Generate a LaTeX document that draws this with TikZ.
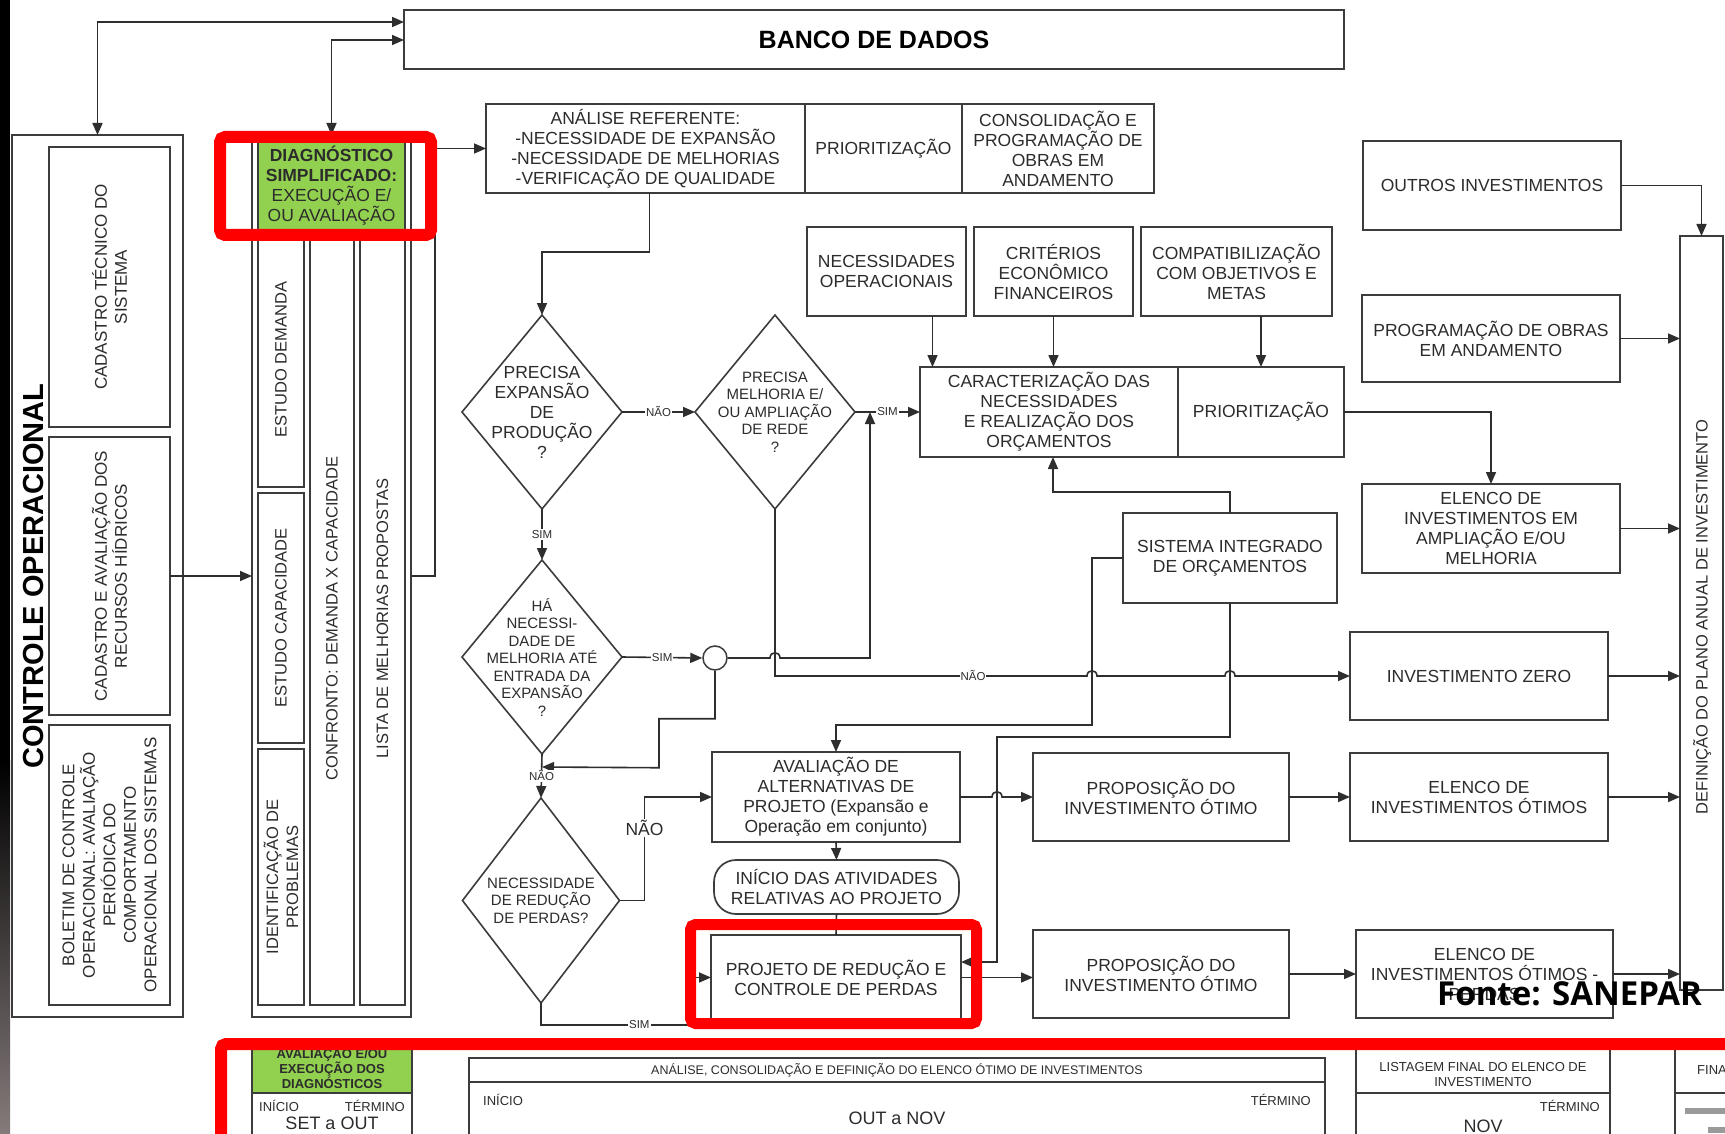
\documentclass[tikz,border=0pt]{standalone}
\usepackage{fontspec}
\setmainfont{Liberation Sans}
\newfontfamily\fontefamily{Open Sans}
\usetikzlibrary{arrows.meta,shapes.geometric,calc}

\definecolor{linecol}{HTML}{2E2E2E}
\definecolor{boxline}{HTML}{3C3C3C}
\definecolor{txtcol}{HTML}{2C2C2C}
\definecolor{greenfill}{HTML}{92D050}
\definecolor{redmark}{HTML}{FF0000}
\definecolor{barend}{HTML}{857B7B}
\definecolor{hatchgray}{HTML}{9A9A9A}

\newcommand{\bxfont}{\fontsize{17.5}{20}\selectfont}
\newcommand{\smfont}{\fontsize{15}{17.5}\selectfont}
% box from its corners: [options]{name}{x1}{y1}{x2}{y2}{text}
\newcommand{\cbox}[7][]{\node[box,#1,minimum width={(#5-#3)*1pt},minimum height={(#6-#4)*1pt}] (#2) at ({(#3+#5)/2},{(#4+#6)/2}) {#7};}

\begin{document}
\begin{tikzpicture}[x=1pt,y=-1pt,
  box/.style={draw=boxline, line width=1.7pt, fill=white, text=txtcol, font=\bxfont, align=center, inner sep=1pt, outer sep=0pt},
  txt/.style={text=txtcol, font=\bxfont, align=center, inner sep=0pt},
  rtxt/.style={txt, rotate=90, font=\fontsize{16.5}{20}\selectfont},
  dia/.style={diamond, draw=boxline, line width=1.6pt, fill=white, inner sep=0pt, outer sep=0pt},
  conn/.style={draw=linecol, line width=1.6pt},
  arr/.style={conn, -{Triangle[length=12pt,width=10pt]}},
  biarr/.style={conn, {Triangle[length=12pt,width=10pt]}-{Triangle[length=12pt,width=10pt]}},
  lbl/.style={fill=white, text=txtcol, font=\fontsize{11.5}{12}\selectfont, inner sep=1pt},
  lblbig/.style={fill=white, text=txtcol, font=\fontsize{17.5}{20}\selectfont, inner sep=1pt},
  marker/.style={draw=redmark, line width=12pt, rounded corners=5pt},
  strip/.style={txt, font=\fontsize{13}{15}\selectfont},
  stripbig/.style={txt, font=\fontsize{18}{20}\selectfont}
]
\useasboundingbox (0,0) rectangle (1725,1134);
\clip (0,0) rectangle (1725,1134);
\fill[white] (0,0) rectangle (1725,1134);

% dark bar on the left edge
\fill[black] (0,0) rectangle (10,760);
\shade[top color=black, bottom color=barend] (0,760) rectangle (10,1134);

% database
\cbox[font=\bfseries\fontsize{25}{28}\selectfont, text=black]{banco}{404}{10}{1344}{69}{BANCO DE DADOS}

% operational control column
\cbox{ctrl}{12}{135}{183}{1017}{}
\node[txt, rotate=90, anchor=base, font=\bfseries\fontsize{29}{32}\selectfont, text=black] (ctrlt) at (43,576) {CONTROLE OPERACIONAL};
\cbox{cad1}{49}{147}{170}{427}{}
\node[rtxt, font=\fontsize{17}{20}\selectfont] (cad1t) at (cad1) {CADASTRO TÉCNICO DO\\SISTEMA};
\cbox{cad2}{49}{437}{170}{715}{}
\node[rtxt, font=\fontsize{17}{20}\selectfont] (cad2t) at (cad2) {CADASTRO E AVALIAÇÃO DOS\\RECURSOS HÍDRICOS};
\cbox{bol}{49}{725}{170}{1005}{}
\node[rtxt, font=\fontsize{17}{20.5}\selectfont] (bolt) at (bol) {BOLETIM DE CONTROLE\\OPERACIONAL: AVALIAÇÃO\\PERIÓDICA DO\\COMPORTAMENTO\\OPERACIONAL DOS SISTEMAS};

% simplified diagnosis column
\cbox{diag}{252}{135}{411}{1017}{}
\cbox[fill=greenfill]{green}{258}{141}{405}{230}{}
\node[txt] (greent) at (green) {\textbf{DIAGNÓSTICO}\\\textbf{SIMPLIFICADO:}\\EXECUÇÃO E/\\OU AVALIAÇÃO};
\cbox{estdem}{258}{232}{304}{487}{}
\node[rtxt] (estdemt) at (estdem) {ESTUDO DEMANDA};
\cbox{estcap}{258}{493}{304}{743}{}
\node[rtxt] (estcapt) at (estcap) {ESTUDO CAPACIDADE};
\cbox{ident}{258}{749}{304}{1005}{}
\node[rtxt] (identt) at (ident) {IDENTIFICAÇÃO DE\\PROBLEMAS};
\cbox{confr}{310}{232}{354}{1005}{}
\node[rtxt] (confrt) at (confr) {CONFRONTO: DEMANDA X CAPACIDADE};
\cbox{lista}{360}{232}{405}{1005}{}
\node[rtxt] (listat) at (lista) {LISTA DE MELHORIAS PROPOSTAS};

% analysis row
\cbox{analise}{486}{104}{805}{193}{ANÁLISE REFERENTE:\\-NECESSIDADE DE EXPANSÃO\\-NECESSIDADE DE MELHORIAS\\-VERIFICAÇÃO DE QUALIDADE}
\cbox{prior1}{805}{104}{962}{193}{PRIORITIZAÇÃO}
\cbox{consol}{962}{104}{1154}{193}{CONSOLIDAÇÃO E\\PROGRAMAÇÃO DE\\OBRAS EM\\ANDAMENTO}

% inputs to the budget characterisation
\cbox{necop}{807}{227}{966}{316}{NECESSIDADES\\OPERACIONAIS}
\cbox{crit}{974}{227}{1133}{316}{CRITÉRIOS\\ECONÔMICO\\FINANCEIROS}
\cbox{compat}{1141}{227}{1332}{316}{COMPATIBILIZAÇÃO\\COM OBJETIVOS E\\METAS}
\cbox{caract}{920}{367}{1178}{457}{CARACTERIZAÇÃO DAS\\NECESSIDADES\\E REALIZAÇÃO DOS\\ORÇAMENTOS}
\cbox{prior2}{1178}{367}{1344}{457}{PRIORITIZAÇÃO}
\cbox{sistema}{1123}{513}{1337}{603}{SISTEMA INTEGRADO\\DE ORÇAMENTOS}

% right-hand investment lists
\cbox{outros}{1363}{141}{1621}{230}{OUTROS INVESTIMENTOS}
\cbox{progobras}{1362}{295}{1620}{382}{PROGRAMAÇÃO DE OBRAS\\EM ANDAMENTO}
\cbox{elencoamp}{1362}{484}{1620}{573}{ELENCO DE\\INVESTIMENTOS EM\\AMPLIAÇÃO E/OU\\MELHORIA}
\cbox{definicao}{1680}{236}{1723}{990}{}
\node[rtxt] (definicaot) at (1702,617) {DEFINIÇÃO DO PLANO ANUAL DE INVESTIMENTO};
\cbox{invzero}{1350}{632}{1608}{720}{INVESTIMENTO ZERO}

% project rows
\cbox{aval}{712}{752}{960}{842}{AVALIAÇÃO DE\\ALTERNATIVAS DE\\PROJETO (Expansão e\\Operação em conjunto)}
\cbox{prop1}{1033}{753}{1289}{841}{PROPOSIÇÃO DO\\INVESTIMENTO ÓTIMO}
\cbox{elencoot}{1350}{753}{1608}{841}{ELENCO DE\\INVESTIMENTOS ÓTIMOS}
\cbox[rounded corners=22pt]{inicio}{714}{860}{959}{914}{INÍCIO DAS ATIVIDADES\\RELATIVAS AO PROJETO}
\cbox{projeto}{711}{935}{961}{1020}{PROJETO DE REDUÇÃO E\\CONTROLE DE PERDAS}
\cbox{prop2}{1033}{930}{1289}{1018}{PROPOSIÇÃO DO\\INVESTIMENTO ÓTIMO}
\cbox{elencoperdas}{1356}{930}{1613}{1018}{ELENCO DE\\INVESTIMENTOS ÓTIMOS -\\PERDAS}

% decisions
\node[dia, minimum width=160pt, minimum height=194pt] (d1) at (542,412) {};
\node[txt] (d1t) at (d1) {PRECISA\\EXPANSÃO\\DE\\PRODUÇÃO\\?};
\node[dia, minimum width=160pt, minimum height=194pt] (d2) at (775,412) {};
\node[txt, font=\smfont] (d2t) at (d2) {PRECISA\\MELHORIA E/\\OU AMPLIAÇÃO\\DE REDE\\?};
\node[dia, minimum width=160pt, minimum height=194pt] (d3) at (542,657) {};
\node[txt, font=\smfont] (d3t) at (d3) {HÁ\\NECESSI-\\DADE DE\\MELHORIA ATÉ\\ENTRADA DA\\EXPANSÃO\\?};
\node[dia, minimum width=157pt, minimum height=205pt] (d4) at (541,900.5) {};
\node[txt, font=\smfont] (d4t) at (d4) {NECESSIDADE\\DE REDUÇÃO\\DE PERDAS?};
\node[circle, draw=boxline, line width=1.5pt, fill=white, minimum size=24pt, inner sep=0pt] (circ) at (715,658) {};

% helper points for the routed connectors
\coordinate (jn) at (870,412);
\coordinate (v1) at (1092,725);
\coordinate (v2) at (997,737);
\coordinate (v3) at (1053,492);
\coordinate (c1) at (690,1025);
\coordinate (c767) at (0,767);
\coordinate (n1) at ($(necop.south)+(46,0)$);
\coordinate (nl) at (d2.south |- invzero.west);
\coordinate (h1) at (d2.south |- circ.east);
\coordinate (h2) at (v1 |- invzero.west);
\coordinate (h3) at (sistema.south |- invzero.west);
\coordinate (h4) at (v2 |- aval.east);

% connectors
\draw[biarr] ([yshift=-12pt]banco.north west) -| (ctrl.north);
\draw[biarr] ([yshift=-30pt]banco.north west) -| (diag.north);
\draw[arr] (cad2.east) -- (cad2.east -| diag.west);
\draw[arr] (diag.east) -- ++(24,0) |- (analise.west);
\draw[arr] ([xshift=4pt]analise.south) -- ++(0,59) -| (d1.north);
\draw[arr] (d1.east) -- node[lbl]{NÃO} (d2.west);
\draw[arr] (d2.east) -- node[lbl]{SIM} (caract.west);
\draw[arr] (d1.south) -- node[lbl]{SIM} (d3.north);
\draw[arr] (d3.east) -- node[lbl]{SIM} (circ.west);
\draw[arr] (circ.east) -- ($(h1)+(-5,0)$) .. controls ($(h1)+(-5,-7)$) and ($(h1)+(5,-7)$) .. ($(h1)+(5,0)$) -- (jn |- circ.east) -- (jn);
\draw[arr] (d2.south) -- (nl) -- ($(h2)+(-5,0)$) .. controls ($(h2)+(-5,-7)$) and ($(h2)+(5,-7)$) .. ($(h2)+(5,0)$) -- ($(h3)+(-5,0)$) .. controls ($(h3)+(-5,-7)$) and ($(h3)+(5,-7)$) .. ($(h3)+(5,0)$) -- (invzero.west);
\node[lbl] (naozero) at (973,676) {NÃO};
\draw[arr] (circ.south) -- ++(0,48) -| ++(-56,49) -- (d3.south |- c767);
\draw[arr] (d3.south) -- node[lbl]{NÃO} (d4.north);
\draw[arr] (d4.east) -- ++(25,0) |- node[lblbig, pos=0.35]{NÃO} (aval.west);
\draw[arr] (d4.south) |- node[lbl, pos=0.83]{SIM} (c1) |- (projeto.west);
\draw[arr] (aval.south) -- (inicio.north);
\draw[conn] (inicio.south) -- (projeto.north);
\draw[arr] (sistema.west) -| (v1) -| (aval.north);
\draw[arr] (sistema.south) |- (v2) |- ($(projeto.north east)+(0,27)$);
\draw[arr] (sistema.north) |- (v3) -- (v3 |- caract.south);
\draw[arr] (n1) -- (n1 |- caract.north);
\draw[arr] (crit.south) -- (crit.south |- caract.north);
\draw[arr] (compat.south -| prior2.north) -- (prior2.north);
\draw[arr] (prior2.east) -| (elencoamp.north);
\draw[arr] (outros.east) -| (definicao.north);
\draw[arr] (progobras.east) -- (progobras.east -| definicao.west);
\draw[arr] (elencoamp.east) -- (elencoamp.east -| definicao.west);
\draw[arr] (invzero.east) -- (invzero.east -| definicao.west);
\draw[arr] (aval.east) -- ($(h4)+(-5,0)$) .. controls ($(h4)+(-5,-7)$) and ($(h4)+(5,-7)$) .. ($(h4)+(5,0)$) -- (aval.east -| prop1.west);
\draw[arr] (prop1.east) -- (elencoot.west);
\draw[arr] (elencoot.east) -- (elencoot.east -| definicao.west);
\draw[arr] (projeto.east) -- (projeto.east -| prop2.west);
\draw[arr] (prop2.east) -- (prop2.east -| elencoperdas.west);
\draw[arr] (elencoperdas.east) -- (elencoperdas.east -| definicao.west);

% schedule strip at the bottom
\cbox[fill=greenfill]{green2}{252}{1040}{412}{1093}{}
\node[txt, font=\bfseries\fontsize{13}{15}\selectfont] (green2t) at (332,1068) {AVALIAÇÃO E/OU\\EXECUÇÃO DOS\\DIAGNÓSTICOS};
\cbox{frame2}{252}{1093}{412}{1170}{}
\node[strip, anchor=west] (ini1) at (259,1106) {INÍCIO};
\node[strip, anchor=east] (ter1) at (405,1106) {TÉRMINO};
\node[stripbig] (per1) at (332,1123) {SET a OUT};
\cbox{midbox}{469}{1058}{1325}{1170}{}
\draw[draw=boxline, line width=1.7pt] ($(midbox.north west)+(0,24)$) -- ($(midbox.north east)+(0,24)$);
\node[txt, font=\fontsize{12.5}{14}\selectfont] (midhead) at (897,1070) {ANÁLISE, CONSOLIDAÇÃO E DEFINIÇÃO DO ELENCO ÓTIMO DE INVESTIMENTOS};
\node[strip, anchor=west] (ini2) at (483,1100) {INÍCIO};
\node[strip, anchor=east] (ter2) at (1311,1100) {TÉRMINO};
\node[stripbig] (per2) at (897,1118) {OUT a NOV};
\cbox{listbox}{1356}{1040}{1610}{1170}{}
\draw[draw=boxline, line width=1.7pt] ($(listbox.north west)+(0,53)$) -- ($(listbox.north east)+(0,53)$);
\node[strip] (listhead) at (1483,1075) {LISTAGEM FINAL DO ELENCO DE\\INVESTIMENTO};
\node[strip, anchor=east] (ter3) at (1600,1106) {TÉRMINO};
\node[stripbig] (per3) at (1483,1126) {NOV};
\cbox{finbox}{1675}{1040}{1790}{1170}{}
\draw[draw=boxline, line width=1.7pt] ($(finbox.north west)+(0,53)$) -- ($(finbox.north east)+(0,53)$);
\node[strip, anchor=west] (finhead) at (1697,1070) {FINA};
\fill[hatchgray] (1685,1108) rectangle (1725,1114);
\fill[hatchgray] (1708,1127) rectangle (1725,1133);

% highlight frames
\draw[marker] (220,137) rectangle (431,235);
\draw[marker, line width=11pt] (690.5,924.5) rectangle (976.5,1023.5);
\draw[marker] (221,1180) -- (221,1044) -- (1790,1044);

% source note
\node[anchor=base west, inner sep=0pt, font=\fontefamily\bfseries\fontsize{33}{36}\selectfont, text=black] (fonte) at (1437,1005) {Fonte: SANEPAR};
\end{tikzpicture}
\end{document}
